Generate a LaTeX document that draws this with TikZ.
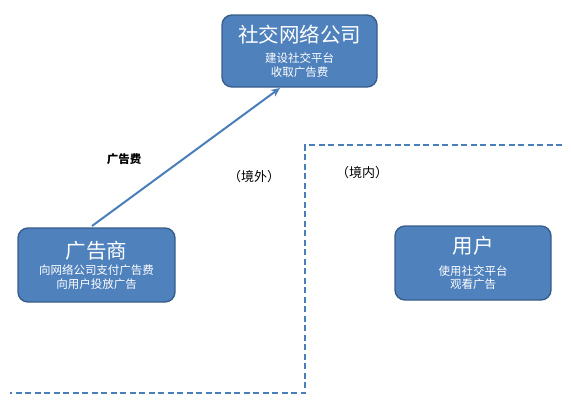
\documentclass[tikz,border=0pt]{standalone}
\usepackage{fontspec}
\setmainfont{Noto Sans CJK SC}
\usetikzlibrary{arrows.meta}
\makeatletter
\providecommand\tikzscope@linewidth{0.4pt}
\makeatother
\definecolor{boxfill}{HTML}{4F81BD}
\definecolor{boxline}{HTML}{385D8A}
\definecolor{linec}{HTML}{4A7EBB}
\newcommand\ttlfont{\fontsize{20.5}{24}\selectfont}
\newcommand\subfont{\fontsize{11.5}{13.5}\selectfont}
\begin{document}
\begin{tikzpicture}[x=1pt,y=-1pt,line width=0.4pt,
  entbox/.style={draw=boxline,line width=1.4pt,fill=boxfill,rounded corners=10pt,text=white,align=center,inner sep=0pt,font=\subfont},
  lbl/.style={text=black},
  dashline/.style={draw=linec,line width=1.6pt,dash pattern=on 6pt off 3.5pt}]
\useasboundingbox (0,0) rectangle (571,415);
\node[entbox,minimum width=155pt,minimum height=72pt] (co) at (299.5,51) {{\ttlfont 社交网络公司}\\[7pt]建设社交平台\\收取广告费};
\node[entbox,minimum width=157pt,minimum height=74pt] (ad) at (96.5,265) {{\ttlfont 广告商}\\[3pt]向网络公司支付广告费\\向用户投放广告};
\node[entbox,minimum width=156pt,minimum height=74pt] (us) at (473,263) {{\ttlfont 用户}\\[8pt]使用社交平台\\观看广告};
\coordinate (s) at (92,226);
\coordinate (e) at (280,88);
\draw[draw=linec,line width=2pt,-{Stealth[length=9pt,width=8pt]}] (s) -- (e);
\node[lbl,font=\bfseries\fontsize{11.5}{13}\selectfont] (fee) at (124,159) {广告费};
\node[lbl,font=\fontsize{13}{15}\selectfont] (out) at (254,177) {（境外）};
\node[lbl,font=\fontsize{13}{15}\selectfont] (in) at (362,173) {（境内）};
\coordinate (d1) at (562,145);
\coordinate (d2) at (305,145);
\coordinate (d3) at (305,393);
\coordinate (d4) at (10,393);
\draw[dashline] (d1) -- (d2) -- (d3) -- (d4);
\end{tikzpicture}
\end{document}
